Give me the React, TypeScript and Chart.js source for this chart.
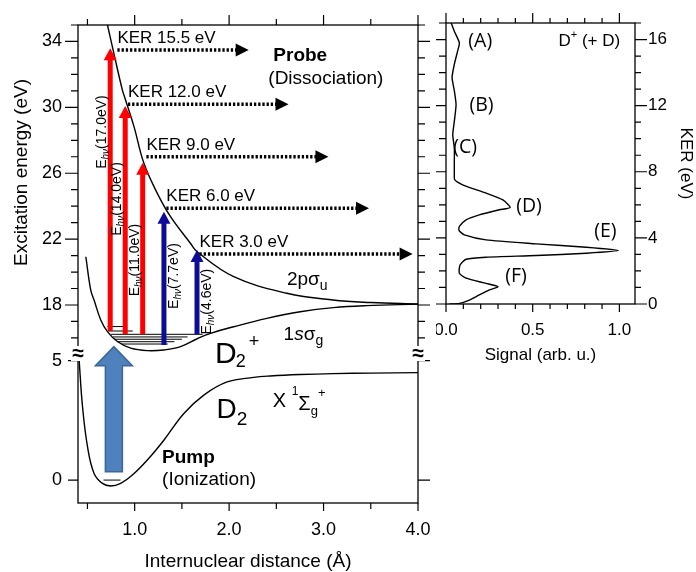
import React, { useEffect, useRef } from "react";
import { Chart, registerables } from "chart.js";

Chart.register(...registerables);

const SANS = "'Liberation Sans', Arial, Helvetica, sans-serif";
const ROUND = "'Open Sans', 'Liberation Sans', sans-serif";

// ================= Left panel: potential energy curves =================
// D2 ground state X 1Σg+ (lower part of the broken axis)
const groundR = [0.412, 0.448, 0.501, 0.570, 0.659, 0.747, 0.852, 0.976, 1.134, 1.309, 1.521, 1.732, 1.979, 2.26, 2.436, 2.75, 3.105, 3.5, 4.0];
const groundE = [5.02, 3.07, 1.39, 0.28, -0.14, -0.25, -0.14, 0.21, 0.84, 1.67, 2.79, 3.56, 4.11, 4.30, 4.36, 4.42, 4.46, 4.48, 4.5];
const zeroPointR = [0.67, 0.85];
const zeroPointE = [0, 0];

// D2+ 1sσg
const ionR = [0.483, 0.535, 0.570, 0.641, 0.712, 0.817, 0.958, 1.134, 1.309, 1.486, 1.662, 1.803, 2.049, 2.40, 2.753, 3.105, 3.457, 4.0];
const ionE = [20.93, 18.9, 18.30, 17.09, 16.38, 15.78, 15.38, 15.23, 15.27, 15.47, 15.95, 16.28, 16.68, 17.19, 17.59, 17.84, 17.96, 18.05];

// D2+ 2pσu
const repR = [0.712, 0.781, 0.87, 0.905, 0.993, 1.098, 1.24, 1.38, 1.59, 1.662, 2.049, 2.612, 3.10, 3.5, 4.0];
const repE = [35.0, 33.25, 31.05, 30.42, 28.83, 26.6, 24.78, 23.36, 21.75, 21.23, 19.72, 18.71, 18.30, 18.15, 18.06];

// vibrational levels inside the D2+ well
const levelE = [16.69, 16.42, 16.22, 16.06, 15.92, 15.77, 15.63];
const levelR0 = [0.712, 0.72, 0.75, 0.77, 0.79, 0.82, 0.86];
const levelR1 = [0.916, 0.98, 1.72, 1.56, 1.50, 1.42, 1.35];

// probe photons
const photonEnergy = ["17.0", "14.0", "11.0", "7.7", "4.6"];
const arrowR = [0.741, 0.90, 1.085, 1.31, 1.66];
const arrowBaseE = [16.42, 16.22, 16.22, 15.57, 16.22];
const arrowTipE = [33.59, 30.08, 26.64, 23.66, 21.34];
const photonLabelE = [28.5, 24.44, 20.73, 19.76, 18.2];

// kinetic energy release
const kerValue = ["15.5", "12.0", "9.0", "6.0", "3.0"];
const kerLevelE = [33.48, 30.19, 27.0, 23.87, 21.10];
const kerStartR = [0.817, 0.929, 1.124, 1.335, 1.686];
const kerEndR = [2.207, 2.629, 3.052, 3.481, 3.943];

// pump (ionization)
const pumpR = [0.78];
const pumpE = [0.35, 15.47];

const xTickVals = [1, 2, 3, 4];
const yHighTickVals = [18, 22, 26, 30, 34];
const yLowTickVals = [0, 5];

// ================= Right panel: KER spectrum =================
const kerAxis = [17.0, 16.5, 15.8, 15.3, 14.5, 13.7, 12.9, 12.06, 11.05, 10.24, 9.44, 8.62, 7.92, 7.52, 7.21, 6.71, 6.30, 5.84, 5.70, 5.39, 5.09, 4.69, 4.45, 4.18, 3.88, 3.64, 3.43, 3.23, 3.07, 2.93, 2.83, 2.71, 2.36, 1.86, 1.56, 1.25, 1.05, 0.85, 0.55, 0.24, 0.04, 0.0];
const signal = [0.03, 0.048, 0.077, 0.067, 0.048, 0.035, 0.048, 0.058, 0.048, 0.039, 0.048, 0.048, 0.048, 0.05, 0.096, 0.231, 0.328, 0.37, 0.308, 0.192, 0.116, 0.077, 0.075, 0.106, 0.231, 0.52, 0.809, 0.995, 0.809, 0.52, 0.231, 0.116, 0.081, 0.077, 0.116, 0.231, 0.299, 0.25, 0.192, 0.135, 0.077, 0.02];
const peakNames = ["(A)", "(B)", "(C)", "(D)", "(E)", "(F)"];
const peakS = [0.129, 0.135, 0.042, 0.405, 0.855, 0.341];
const peakK = [16.0, 12.12, 9.53, 6.0, 4.48, 1.76];
const signalTickVals = [0, 0.5, 1.0];
const kerTickVals = [0, 4, 8, 12, 16];

// ---------- styles ----------
const arrowColors = ["#ff0000", "#ff0000", "#ff0000", "#0c0c96", "#0c0c96"];
const photonLabelSide = [-1, -1, -1, 1, 1];

type Part = { t: string; size: number; bold?: boolean; italic?: boolean; dx?: number; dy?: number; family?: string };

const pts = (xs: number[], ys: number[]) => xs.map((x, i) => ({ x, y: ys[i] }));

function fontOf(p: Part) {
  return `${p.italic ? "italic " : ""}${p.bold ? "bold " : ""}${p.size}px ${p.family || SANS}`;
}
function partsWidth(ctx: CanvasRenderingContext2D, parts: Part[]) {
  let w = 0;
  for (const p of parts) {
    ctx.font = fontOf(p);
    w += ctx.measureText(p.t).width + (p.dx || 0);
  }
  return w;
}
function drawParts(ctx: CanvasRenderingContext2D, parts: Part[], x: number, baseline: number, align = "left") {
  ctx.save();
  ctx.textBaseline = "alphabetic";
  ctx.textAlign = "left";
  ctx.fillStyle = "#000";
  let cx = align === "center" ? x - partsWidth(ctx, parts) / 2 : x;
  for (const p of parts) {
    ctx.font = fontOf(p);
    cx += p.dx || 0;
    ctx.fillText(p.t, cx, baseline + (p.dy || 0));
    cx += ctx.measureText(p.t).width;
  }
  ctx.restore();
}
function tickMarks(ctx: CanvasRenderingContext2D, vals: number[], toPix: (v: number) => number, fixed: number, len: number, dir: string) {
  ctx.beginPath();
  for (const v of vals) {
    const p = toPix(v);
    if (dir === "left") { ctx.moveTo(fixed, p); ctx.lineTo(fixed - len, p); }
    if (dir === "right") { ctx.moveTo(fixed, p); ctx.lineTo(fixed + len, p); }
    if (dir === "up") { ctx.moveTo(p, fixed); ctx.lineTo(p, fixed - len); }
    if (dir === "down") { ctx.moveTo(p, fixed); ctx.lineTo(p, fixed + len); }
  }
  ctx.stroke();
}
const zeroPad = (s: any) => { s.paddingLeft = 0; s.paddingRight = 0; s.paddingTop = 0; s.paddingBottom = 0; };

const leftNotes = [
  { axis: "h", r: 2.468, e: 33.24, parts: [{ t: "Probe", size: 19, bold: true }] },
  { axis: "h", r: 2.415, e: 31.84, parts: [{ t: "(Dissociation)", size: 19 }] },
  { axis: "h", r: 2.612, e: 19.64, parts: [{ t: "2pσ", size: 19 }, { t: "u", size: 14, dy: 5 }] },
  { axis: "h", r: 2.577, e: 16.28, parts: [{ t: "1", size: 19 }, { t: "s", size: 19, italic: true }, { t: "σ", size: 19 }, { t: "g", size: 14, dy: 5 }] },
  { axis: "h", r: 1.851, e: 15.16, parts: [{ t: "D", size: 30 }, { t: "2", size: 18, dy: 4.5, dx: -1 }, { t: "+", size: 18, dy: -16, dx: 3 }] },
  { axis: "l", r: 1.866, e: 3.0, parts: [{ t: "D", size: 28 }, { t: "2", size: 19, dy: 6.5 }] },
  { axis: "l", r: 2.462, e: 3.35, parts: [{ t: "X ", size: 20 }, { t: "1", size: 12, dy: -12 }, { t: "Σ", size: 20, dy: 3 }, { t: "g", size: 13, dy: 8 }, { t: "+", size: 13, dy: -10 }] },
  { axis: "l", r: 1.29, e: 1.02, parts: [{ t: "Pump", size: 19, bold: true }] },
  { axis: "l", r: 1.29, e: 0.07, parts: [{ t: "(Ionization)", size: 19 }] },
];

const leftDecor = {
  id: "leftDecor",
  afterDatasetsDraw(chart: any) {
    const { ctx, scales } = chart;
    const sx = scales.x, sh = scales.yHigh, sl = scales.yLow;
    ctx.save();
    // probe photon arrows
    arrowR.forEach((r, i) => {
      const px = sx.getPixelForValue(r);
      const pb = sh.getPixelForValue(arrowBaseE[i]);
      const pt = sh.getPixelForValue(arrowTipE[i]);
      ctx.fillStyle = arrowColors[i];
      ctx.fillRect(px - 2.5, pt + 10, 5, pb - pt - 10);
      ctx.beginPath();
      ctx.moveTo(px, pt);
      ctx.lineTo(px - 6.5, pt + 12);
      ctx.lineTo(px + 6.5, pt + 12);
      ctx.closePath();
      ctx.fill();
    });
    // KER dotted arrows
    kerLevelE.forEach((e, i) => {
      const py = sh.getPixelForValue(e);
      const x0 = sx.getPixelForValue(kerStartR[i]);
      const x1 = sx.getPixelForValue(kerEndR[i]);
      ctx.strokeStyle = "#000";
      ctx.lineWidth = 3.4;
      ctx.setLineDash([2.3, 1.9]);
      ctx.beginPath();
      ctx.moveTo(x0, py);
      ctx.lineTo(x1 - 12, py);
      ctx.stroke();
      ctx.setLineDash([]);
      ctx.fillStyle = "#000";
      ctx.beginPath();
      ctx.moveTo(x1, py);
      ctx.lineTo(x1 - 13, py - 6.5);
      ctx.lineTo(x1 - 13, py + 6.5);
      ctx.closePath();
      ctx.fill();
    });
    // pump arrow
    const cx = sx.getPixelForValue(pumpR[0]);
    const bot = sl.getPixelForValue(pumpE[0]);
    const tip = sh.getPixelForValue(pumpE[1]);
    ctx.beginPath();
    ctx.moveTo(cx - 8.5, bot);
    ctx.lineTo(cx - 8.5, tip + 19);
    ctx.lineTo(cx - 18.5, tip + 19);
    ctx.lineTo(cx, tip);
    ctx.lineTo(cx + 18.5, tip + 19);
    ctx.lineTo(cx + 8.5, tip + 19);
    ctx.lineTo(cx + 8.5, bot);
    ctx.closePath();
    ctx.fillStyle = "#4f81bd";
    ctx.fill();
    ctx.strokeStyle = "#3a669a";
    ctx.lineWidth = 1.5;
    ctx.stroke();
    ctx.restore();
  },
  afterDraw(chart: any) {
    const { ctx, chartArea: ca, scales } = chart;
    const sx = scales.x, sh = scales.yHigh, sl = scales.yLow;
    ctx.save();
    ctx.strokeStyle = "#000";
    ctx.lineWidth = 1.3;
    ctx.strokeRect(ca.left, ca.top, ca.right - ca.left, ca.bottom - ca.top);
    ctx.lineWidth = 1.2;
    const hiMinor: number[] = [];
    for (let v = 16; v <= 35; v++) if (!yHighTickVals.includes(v)) hiMinor.push(v);
    const xMinor = [0.5, 1.5, 2.5, 3.5];
    const H = (v: number) => sh.getPixelForValue(v);
    const L = (v: number) => sl.getPixelForValue(v);
    const X = (v: number) => sx.getPixelForValue(v);
    tickMarks(ctx, yHighTickVals, H, ca.left, 13, "left");
    tickMarks(ctx, hiMinor, H, ca.left, 7, "left");
    tickMarks(ctx, yLowTickVals, L, ca.left, 10, "left");
    tickMarks(ctx, yHighTickVals, H, ca.right, 12, "right");
    tickMarks(ctx, hiMinor, H, ca.right, 7, "right");
    tickMarks(ctx, yLowTickVals, L, ca.right, 12, "right");
    tickMarks(ctx, xTickVals, X, ca.top, 10, "up");
    tickMarks(ctx, xMinor, X, ca.top, 6, "up");
    tickMarks(ctx, xTickVals, X, ca.bottom, 8, "down");
    tickMarks(ctx, xMinor, X, ca.bottom, 6, "down");

    // axis break marks
    const yb = sh.bottom;
    for (const xb of [ca.left, ca.right]) {
      ctx.fillStyle = "#fff";
      ctx.fillRect(xb - 7, yb - 14, 14, 15);
      ctx.fillStyle = "#000";
      ctx.font = `bold 21px ${SANS}`;
      ctx.textAlign = "center";
      ctx.textBaseline = "middle";
      ctx.fillText("≈", xb, yb - 6);
    }

    // KER labels
    kerValue.forEach((k, i) => {
      const px = X(kerStartR[i]);
      const py = H(kerLevelE[i]) - 13;
      drawParts(ctx, [{ t: `KER ${k} eV`, size: 17 }], px, py + 6);
    });

    // photon energy labels (rotated)
    photonEnergy.forEach((pe, i) => {
      const px = X(arrowR[i]) + photonLabelSide[i] * 9;
      const py = H(photonLabelE[i]);
      ctx.save();
      ctx.translate(px, py);
      ctx.rotate(-Math.PI / 2);
      drawParts(ctx, [{ t: "E", size: 14 }, { t: "hν", size: 10, italic: true, dy: 3 }, { t: `(${pe}eV)`, size: 14 }], 0, 5, "center");
      ctx.restore();
    });

    // annotations
    for (const n of leftNotes) {
      const px = X(n.r);
      const py = n.axis === "h" ? H(n.e) : L(n.e);
      drawParts(ctx, n.parts as Part[], px, py + 0.358 * n.parts[0].size);
    }

    // axis titles
    drawParts(ctx, [{ t: "Internuclear distance (Å)", size: 19 }], (ca.left + ca.right) / 2, ca.bottom + 64, "center");
    ctx.save();
    ctx.translate(ca.left - 51, ca.top + 147.5);
    ctx.rotate(-Math.PI / 2);
    drawParts(ctx, [{ t: "Excitation energy (eV)", size: 19 }], 0, 0, "center");
    ctx.restore();
    ctx.restore();
  },
};

const rightDecor = {
  id: "rightDecor",
  afterDraw(chart: any) {
    const { ctx, chartArea: ca, scales } = chart;
    const sx = scales.x, sy = scales.y;
    const X = (v: number) => sx.getPixelForValue(v);
    const Y = (v: number) => sy.getPixelForValue(v);
    ctx.save();
    ctx.strokeStyle = "#000";
    ctx.lineWidth = 1.3;
    ctx.strokeRect(ca.left, ca.top, ca.right - ca.left, ca.bottom - ca.top);
    ctx.lineWidth = 1.2;
    const kMinor: number[] = [];
    for (let v = 1; v <= 17; v++) if (!kerTickVals.includes(v)) kMinor.push(v);
    const sMinor = [0.1, 0.2, 0.3, 0.4, 0.6, 0.7, 0.8, 0.9];
    tickMarks(ctx, kerTickVals, Y, ca.left, 10, "left");
    tickMarks(ctx, kMinor, Y, ca.left, 7, "left");
    tickMarks(ctx, kerTickVals, Y, ca.right, 12, "right");
    tickMarks(ctx, kMinor, Y, ca.right, 6, "right");
    tickMarks(ctx, signalTickVals, X, ca.top, 10, "up");
    tickMarks(ctx, sMinor, X, ca.top, 5, "up");
    tickMarks(ctx, signalTickVals, X, ca.bottom, 8, "down");
    tickMarks(ctx, sMinor, X, ca.bottom, 5, "down");

    peakNames.forEach((nm, i) => {
      drawParts(ctx, [{ t: nm, size: 19.5, family: ROUND }], X(peakS[i]), Y(peakK[i]) + 7);
    });
    drawParts(ctx, [{ t: "D", size: 17 }, { t: "+", size: 11, dy: -8 }, { t: " (+ D)", size: 17 }], X(0.649), Y(16.0) + 6);

    drawParts(ctx, [{ t: "Signal (arb. u.)", size: 17 }], (ca.left + ca.right) / 2, ca.bottom + 56, "center");
    ctx.save();
    ctx.translate(ca.right + 45.5, (ca.top + ca.bottom) / 2);
    ctx.rotate(Math.PI / 2);
    drawParts(ctx, [{ t: "KER (eV)", size: 17 }], 0, 0, "center");
    ctx.restore();
    ctx.restore();
  },
};

const lineStyle = { showLine: true, borderColor: "#000", borderWidth: 1.4, pointRadius: 0, fill: false };

function leftConfig(): any {
  const datasets: any[] = [
    { ...lineStyle, data: pts(groundR, groundE), yAxisID: "yLow", tension: 0.4 },
    { ...lineStyle, data: pts(zeroPointR, zeroPointE), yAxisID: "yLow", borderWidth: 1, tension: 0 },
    { ...lineStyle, data: pts(ionR, ionE), yAxisID: "yHigh", tension: 0.4 },
    { ...lineStyle, data: pts(repR, repE), yAxisID: "yHigh", tension: 0.4 },
  ];
  levelE.forEach((e, i) => {
    datasets.push({ ...lineStyle, data: [{ x: levelR0[i], y: e }, { x: levelR1[i], y: e }], yAxisID: "yHigh", borderWidth: 1, tension: 0 });
  });
  const tickFont = { family: SANS, size: 18 };
  return {
    type: "scatter",
    data: { datasets },
    options: {
      animation: false,
      responsive: false,
      layout: { padding: { top: 25, right: 18, left: 0, bottom: 0 } },
      plugins: { legend: { display: false }, tooltip: { enabled: false } },
      elements: { point: { radius: 0 } },
      scales: {
        x: {
          type: "linear", position: "bottom", min: 0.4, max: 4.0,
          afterBuildTicks: (s: any) => { s.ticks = xTickVals.map((v) => ({ value: v })); },
          ticks: { callback: (v: any) => Number(v).toFixed(1), font: tickFont, color: "#000", padding: 16, autoSkip: false, maxRotation: 0 },
          grid: { display: false, drawTicks: false }, border: { display: false },
          afterFit: (s: any) => { s.height = 69; zeroPad(s); },
        },
        yLow: {
          type: "linear", position: "left", stack: "left", stackWeight: 143, min: -0.96, max: 5.03,
          afterBuildTicks: (s: any) => { s.ticks = yLowTickVals.map((v) => ({ value: v })); },
          ticks: { font: tickFont, color: "#000", padding: 16, autoSkip: false },
          grid: { display: false, drawTicks: false }, border: { display: false },
          afterFit: (s: any) => { s.width = 78; zeroPad(s); },
        },
        yHigh: {
          type: "linear", position: "left", stack: "left", stackWeight: 335, min: 14.66, max: 35.0,
          afterBuildTicks: (s: any) => { s.ticks = yHighTickVals.map((v) => ({ value: v })); },
          ticks: { font: tickFont, color: "#000", padding: 16, autoSkip: false },
          grid: { display: false, drawTicks: false }, border: { display: false },
          afterFit: (s: any) => { s.width = 78; zeroPad(s); },
        },
      },
    },
    plugins: [leftDecor],
  };
}

function rightConfig(): any {
  const tickFont = { family: SANS, size: 17 };
  return {
    type: "scatter",
    data: { datasets: [{ ...lineStyle, data: pts(signal, kerAxis), tension: 0.2 }] },
    options: {
      animation: false,
      responsive: false,
      layout: { padding: { top: 23, right: 0, left: 10, bottom: 0 } },
      plugins: { legend: { display: false }, tooltip: { enabled: false } },
      elements: { point: { radius: 0 } },
      scales: {
        x: {
          type: "linear", position: "bottom", min: 0, max: 1.09,
          afterBuildTicks: (s: any) => { s.ticks = signalTickVals.map((v) => ({ value: v })); },
          ticks: { callback: (v: any) => Number(v).toFixed(1), font: tickFont, color: "#000", padding: 16.5, autoSkip: false, maxRotation: 0 },
          grid: { display: false, drawTicks: false }, border: { display: false },
          afterFit: (s: any) => { s.height = 268; zeroPad(s); },
        },
        y: {
          type: "linear", position: "right", min: 0, max: 17,
          afterBuildTicks: (s: any) => { s.ticks = kerTickVals.map((v) => ({ value: v })); },
          ticks: { font: tickFont, color: "#000", padding: 13, autoSkip: false },
          grid: { display: false, drawTicks: false }, border: { display: false },
          afterFit: (s: any) => { s.width = 61; zeroPad(s); },
        },
      },
    },
    plugins: [rightDecor],
  };
}

export default function App() {
  const leftRef = useRef<HTMLCanvasElement>(null);
  const rightRef = useRef<HTMLCanvasElement>(null);
  useEffect(() => {
    const c1 = new Chart(leftRef.current as HTMLCanvasElement, leftConfig());
    const c2 = new Chart(rightRef.current as HTMLCanvasElement, rightConfig());
    return () => {
      c1.destroy();
      c2.destroy();
    };
  }, []);
  return (
    <div style={{ position: "absolute", left: 0, top: 0, width: 696, height: 572, background: "#fff", overflow: "hidden" }}>
      <canvas ref={leftRef} width={436} height={572} style={{ position: "absolute", left: 0, top: 0, width: 436, height: 572 }} />
      <canvas ref={rightRef} width={260} height={572} style={{ position: "absolute", left: 436, top: 0, width: 260, height: 572 }} />
    </div>
  );
}
